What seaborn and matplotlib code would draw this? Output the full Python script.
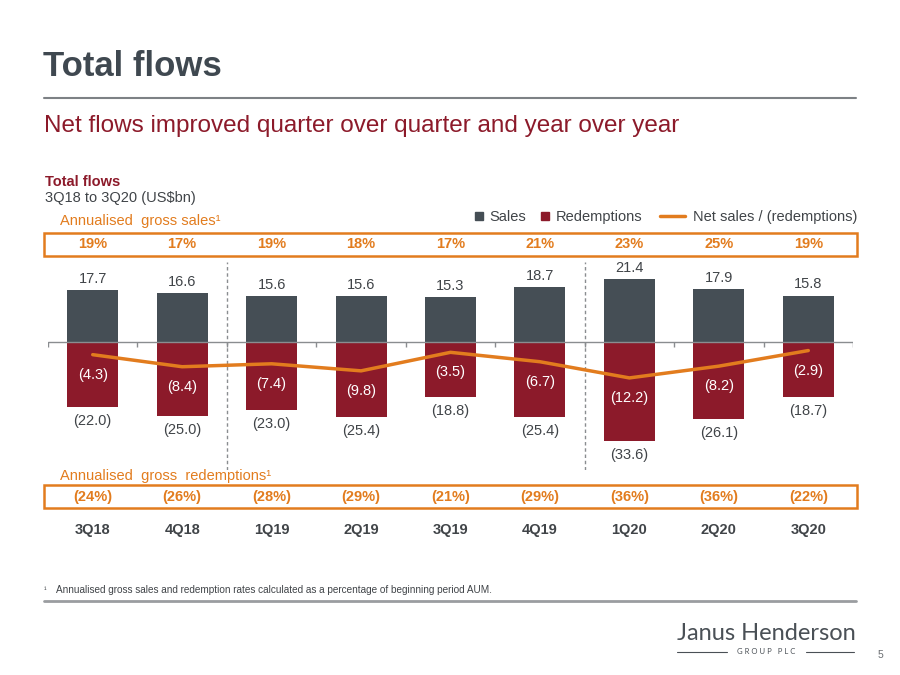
import matplotlib
matplotlib.use('Agg')
import matplotlib.pyplot as plt
import matplotlib.transforms as mtransforms
from matplotlib.lines import Line2D
from matplotlib.patches import Rectangle
import seaborn as sns
import numpy as np

# data (US$bn)
quarters = ['3Q18', '4Q18', '1Q19', '2Q19', '3Q19', '4Q19', '1Q20', '2Q20', '3Q20']
sales = [17.7, 16.6, 15.6, 15.6, 15.3, 18.7, 21.4, 17.9, 15.8]
redemptions = [-22.0, -25.0, -23.0, -25.4, -18.8, -25.4, -33.6, -26.1, -18.7]
net_sales = [-4.3, -8.4, -7.4, -9.8, -3.5, -6.7, -12.2, -8.2, -2.9]
sales_rate = ['19%', '17%', '19%', '18%', '17%', '21%', '23%', '25%', '19%']
redemption_rate = ['(24%)', '(26%)', '(28%)', '(29%)', '(21%)', '(29%)', '(36%)', '(36%)', '(22%)']

sales_c = '#454e55'
red_c = '#8c1a2a'
orange_c = '#e27c1e'
text_c = '#404448'
title_c = '#3f4850'
rule_c = '#7d8185'

sns.set_style('white')
plt.rcParams['font.family'] = ['Liberation Sans', 'DejaVu Sans']

W, H = 900, 675
fig = plt.figure(figsize=(9, 6.75), dpi=100)


def fx(px):
    return px / W


def fy(py):
    return 1 - py / H


# chart area: x 48..853 px, y 262..470 px, zero line at ~342 px
ax = fig.add_axes([fx(48), fy(470), fx(853 - 48), (470 - 262) / H])
ax.set_axis_off()

sns.barplot(x=quarters, y=sales, color=sales_c, saturation=1, width=0.57,
            linewidth=0, ax=ax)
sns.barplot(x=quarters, y=redemptions, color=red_c, saturation=1, width=0.57,
            linewidth=0, ax=ax)
x = np.arange(len(quarters))
sns.lineplot(x=x, y=net_sales, color=orange_c, linewidth=2.5, ax=ax, zorder=5)

ax.set_xlim(-0.5, len(quarters) - 0.5)
ax.set_ylim(-43.5, 27.2)

# zero line with category boundary ticks
ax.axhline(0, color='#8a8d90', lw=1, zorder=4)
ax.vlines(np.arange(-0.5, len(quarters)), -1.7, 0, color='#8a8d90', lw=1, zorder=4)
# year separators
for xs in [1.5, 5.5]:
    ax.axvline(xs, color='#8a8d90', lw=1, ls=(0, (2.5, 2)), zorder=1)

# value labels
for i in range(len(quarters)):
    ax.annotate(f'{sales[i]:.1f}', (i, sales[i]), xytext=(0, 3), textcoords='offset points',
                ha='center', va='bottom', fontsize=10.5, color=text_c)
    ax.annotate(f'({-redemptions[i]:.1f})', (i, redemptions[i]), xytext=(0, -5),
                textcoords='offset points', ha='center', va='top', fontsize=10.5, color=text_c)
    ax.annotate(f'({-net_sales[i]:.1f})', (i, net_sales[i]), xytext=(0, -14.5),
                textcoords='offset points', ha='center', va='center', fontsize=10.5,
                color='white', zorder=6)

# rate boxes above and below the chart
blend = mtransforms.blended_transform_factory(ax.transData, fig.transFigure)
for top, bottom, rates in [(233, 256, sales_rate), (485, 508, redemption_rate)]:
    fig.patches.append(Rectangle((fx(44), fy(bottom)), fx(857 - 44), (bottom - top) / H,
                                 transform=fig.transFigure, fill=False,
                                 edgecolor=orange_c, lw=1.8))
    for i, r in enumerate(rates):
        ax.text(i, fy((top + bottom) / 2), r, transform=blend, ha='center', va='center',
                fontsize=10.5, weight='bold', color=orange_c, clip_on=False)

for i, q in enumerate(quarters):
    ax.text(i, fy(530), q, transform=blend, ha='center', va='center',
            fontsize=10.5, weight='bold', color=text_c, clip_on=False)

# header texts
fig.text(fx(43), fy(67), 'Total flows', fontsize=25, weight='bold', color=title_c, va='center')
fig.add_artist(Line2D([fx(44), fx(856)], [fy(97.5), fy(97.5)], color=rule_c, lw=1.5))
fig.text(fx(44), fy(126), 'Net flows improved quarter over quarter and year over year',
         fontsize=17.5, color=red_c, va='center')
fig.text(fx(45), fy(182), 'Total flows', fontsize=10.5, weight='bold', color=red_c, va='center')
fig.text(fx(45), fy(198), '3Q18 to 3Q20 (US$bn)', fontsize=10.5, color=text_c, va='center')
fig.text(fx(60), fy(221), 'Annualised  gross sales\u00b9', fontsize=10.5, color=orange_c, va='center')
fig.text(fx(60), fy(476), 'Annualised  gross  redemptions\u00b9', fontsize=10.5, color=orange_c,
         va='center')

# legend: squares for the bars, a line for net sales
bar_handles = [
    Line2D([], [], marker='s', ls='', color=sales_c, markersize=6),
    Line2D([], [], marker='s', ls='', color=red_c, markersize=6),
]
fig.legend(bar_handles, ['Sales', 'Redemptions'],
           loc='center right', bbox_to_anchor=(fx(642), fy(217)), ncol=2, frameon=False,
           fontsize=10.5, labelcolor=text_c, handlelength=0.8, handletextpad=0.3,
           columnspacing=0.9, borderaxespad=0, borderpad=0)
fig.legend([Line2D([], [], color=orange_c, lw=2.5)], ['Net sales / (redemptions)'],
           loc='center right', bbox_to_anchor=(fx(857), fy(217)), frameon=False,
           fontsize=10.5, labelcolor=text_c, handlelength=1.7, handletextpad=0.55,
           borderaxespad=0, borderpad=0)

# footnote
fig.text(fx(44), fy(590), '\u00b9', fontsize=5.5, color=text_c, va='center')
fig.text(fx(56), fy(590),
         'Annualised gross sales and redemption rates calculated as a percentage of beginning period AUM.',
         fontsize=7.2, color=text_c, va='center')
fig.add_artist(Line2D([fx(44), fx(856)], [fy(601), fy(601)], color='#9a9da0', lw=2))

# logo
fig.text(fx(766), fy(634), 'Janus Henderson', family=['Lato', 'DejaVu Sans'], fontsize=17,
         color='#4a5056', ha='center', va='center')
fig.text(fx(766), fy(652), 'G R O U P   P L C', family=['Lato', 'DejaVu Sans'], fontsize=5.5,
         color='#4a5056', ha='center', va='center')
fig.add_artist(Line2D([fx(677), fx(727)], [fy(652), fy(652)], color='#4a5056', lw=0.8))
fig.add_artist(Line2D([fx(806), fx(854)], [fy(652), fy(652)], color='#4a5056', lw=0.8))
fig.text(fx(880), fy(655), '5', fontsize=7.5, color='#6a6e72', ha='center', va='center')

fig.savefig('out.png', dpi=100)
